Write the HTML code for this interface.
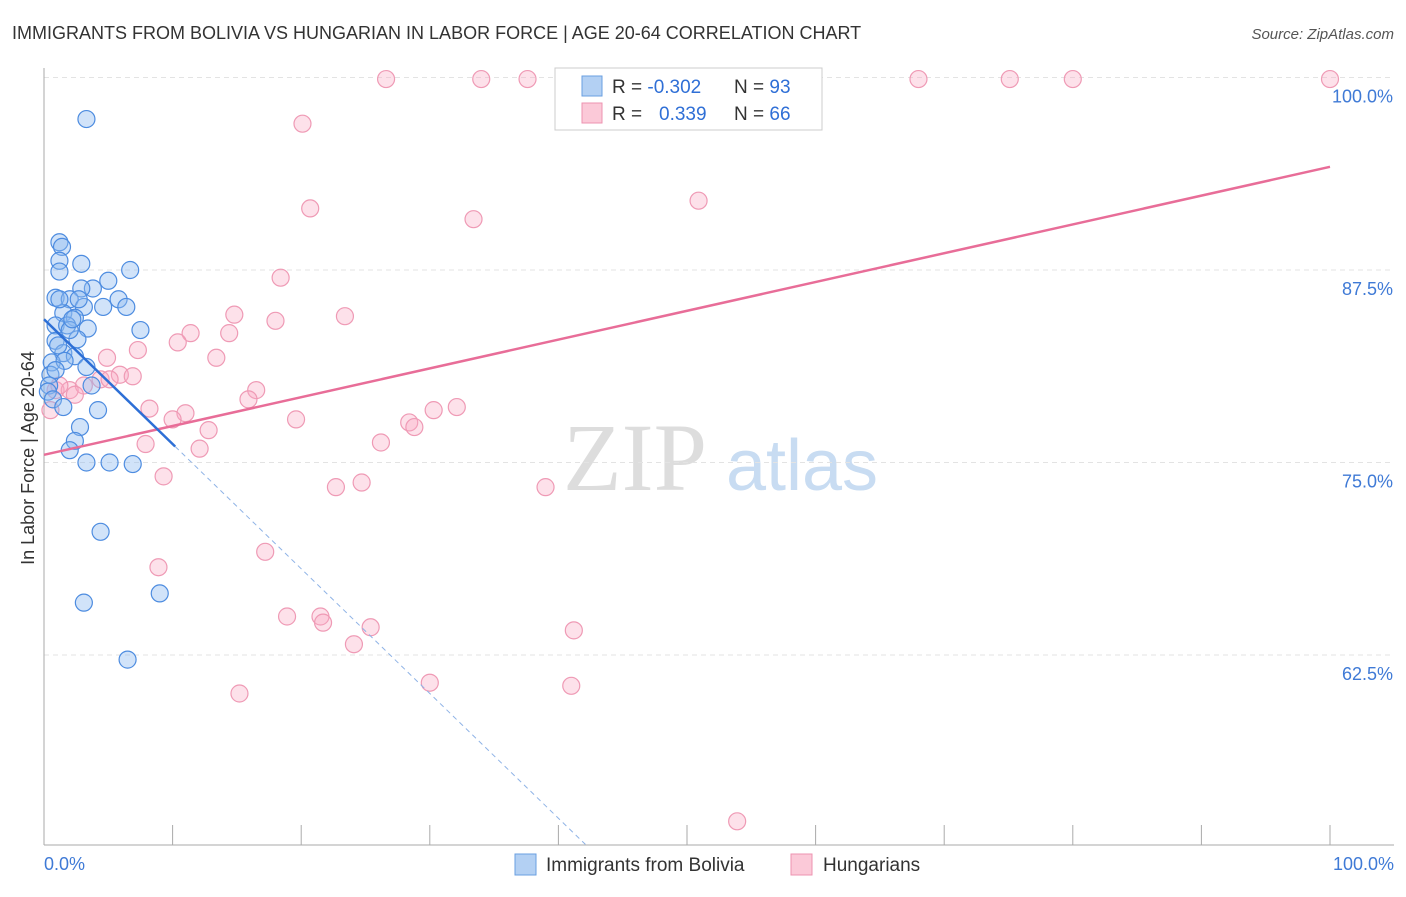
<!DOCTYPE html>
<html><head><meta charset="utf-8"><style>
body{margin:0;background:#fff;font-family:"Liberation Sans",sans-serif;}
</style></head><body>
<svg id="c" width="1406" height="892" xmlns="http://www.w3.org/2000/svg">
<text x="12" y="39" font-size="18" fill="#333">IMMIGRANTS FROM BOLIVIA VS HUNGARIAN IN LABOR FORCE | AGE 20-64 CORRELATION CHART</text>
<text x="1394" y="39" font-size="15" fill="#555" font-style="italic" text-anchor="end">Source: ZipAtlas.com</text>
<text x="34" y="458" font-size="18" fill="#333" text-anchor="middle" transform="rotate(-90 34 458)">In Labor Force | Age 20-64</text>
<g><text x="635" y="490" font-size="96" fill="#ddd" font-family="Liberation Serif" text-anchor="middle">ZIP</text><text x="802" y="490" font-size="72" fill="#c8dcf2" text-anchor="middle">atlas</text></g>
<g id="grid"></g><g id="axes"></g><g id="pts"></g><g id="lines"></g>
<g>
<rect x="555" y="68" width="267" height="62" fill="#fff" stroke="#ccc"/>
<rect x="582" y="76" width="20" height="20" fill="#b3d0f3" stroke="#6a9fe0"/>
<rect x="582" y="103" width="20" height="20" fill="#fbc9d8" stroke="#ee93b0"/>
<text x="612" y="93" font-size="19" fill="#333">R = <tspan fill="#2f6fd6">-0.302</tspan></text>
<text x="734" y="93" font-size="19" fill="#333">N = <tspan fill="#2f6fd6">93</tspan></text>
<text x="612" y="120" font-size="19" fill="#333">R = <tspan fill="#2f6fd6" x="659">0.339</tspan></text>
<text x="734" y="120" font-size="19" fill="#333">N = <tspan fill="#2f6fd6">66</tspan></text>
</g>
<g>
<rect x="515" y="854" width="21" height="21" fill="#b3d0f3" stroke="#6a9fe0"/>
<text x="546" y="871" font-size="19" fill="#333">Immigrants from Bolivia</text>
<rect x="791" y="854" width="21" height="21" fill="#fbc9d8" stroke="#ee93b0"/>
<text x="823" y="871" font-size="19" fill="#333">Hungarians</text>
</g>
</svg>
<script>
const yTicks=[100,87.5,75,62.5];
const yTickLabels=["100.0%","87.5%","75.0%","62.5%"];
const blueX=[3.3,1.2,1.4,1.2,2.9,6.7,1.2,5.0,3.8,2.9,0.9,2.0,5.8,4.6,6.4,3.1,1.5,2.4,0.9,1.8,3.4,7.5,0.9,2.6,1.5,2.4,0.6,3.3,0.5,0.4,0.3,0.7,1.5,4.2,2.8,2.4,2.0,3.3,5.1,6.9,4.4,9.0,3.1,6.5,1.2,2.0,1.1,1.6,0.9,3.7,2.2,2.7];
const blueY=[97.3,89.3,89.0,88.1,87.9,87.5,87.4,86.8,86.3,86.3,85.7,85.6,85.6,85.1,85.1,85.1,84.7,84.4,83.9,83.9,83.7,83.6,82.9,83.0,82.1,81.9,81.5,81.2,80.7,80.0,79.6,79.1,78.6,78.4,77.3,76.4,75.8,75.0,75.0,74.9,70.5,66.5,65.9,62.2,85.6,83.6,82.6,81.6,81.0,80.0,84.3,85.6];
const pinkX=[26.6,34.0,37.6,57.1,68.0,75.1,80.0,100,20.1,20.7,33.4,50.9,18.4,14.8,18.0,23.4,11.4,14.4,10.4,7.3,13.4,4.9,5.9,6.9,4.4,16.5,15.9,8.2,11.0,10.0,19.6,28.4,28.8,30.3,32.1,12.8,7.9,12.1,26.2,9.3,22.7,24.7,39.0,17.2,8.9,18.9,21.5,21.7,25.4,24.1,41.2,30.0,41.0,15.2,53.9,0.5,0.9,2.0,3.1,5.1,1.2,2.4];
const pinkY=[99.9,99.9,99.9,99.9,99.9,99.9,99.9,99.9,97.0,91.5,90.8,92.0,87.0,84.6,84.2,84.5,83.4,83.4,82.8,82.3,81.8,81.8,80.7,80.6,80.4,79.7,79.1,78.5,78.2,77.8,77.8,77.6,77.3,78.4,78.6,77.1,76.2,75.9,76.3,74.1,73.4,73.7,73.4,69.2,68.2,65.0,65.0,64.6,64.3,63.2,64.1,60.7,60.5,60.0,51.7,78.4,79.7,79.7,80.0,80.4,80.0,79.4];
const pinkTrend=[75.5,94.2];
const blueTrend=[84.3,-0.81];
const NS="http://www.w3.org/2000/svg";
const sx=v=>44+v*12.86, sy=v=>77.5+(100-v)*15.4;
function mk(tag,attrs,parent){const e=document.createElementNS(NS,tag);for(const k in attrs)e.setAttribute(k,attrs[k]);document.getElementById(parent).appendChild(e);return e;}
yTicks.forEach((t,i)=>{
 const g=mk('line',{x1:44,x2:1394,y1:sy(t),y2:sy(t),stroke:'#e3e3e3','stroke-dasharray':'5,4'},'grid');
 
 
 const l=mk('text',{x:1393,y:sy(t)+25,'font-size':18,fill:'#3f7ad6','text-anchor':'end'},'axes');l.textContent=yTickLabels[i];
 
 
});
const ax=mk('line',{x1:44,x2:44,y1:68,y2:845,stroke:'#aaa'},'axes');


const bx=mk('line',{x1:44,x2:1394,y1:845,y2:845,stroke:'#aaa'},'axes');


for(let i=0;i<=10;i++){const t=mk('line',{x1:sx(i*10),x2:sx(i*10),y1:825,y2:845,stroke:'#aaa'},'axes');
 
 }
const x0=mk('text',{x:44,y:870,'font-size':18,fill:'#3f7ad6'},'axes');x0.textContent='0.0%';


const x1=mk('text',{x:1394,y:870,'font-size':18,fill:'#3f7ad6','text-anchor':'end'},'axes');x1.textContent='100.0%';


pinkX.forEach((v,i)=>{const c=mk('circle',{cx:sx(v),cy:sy(pinkY[i]),r:8.5,fill:'rgba(248,170,195,0.35)',stroke:'#ef9ab5','stroke-width':1.2},'pts');
 
 });
blueX.forEach((v,i)=>{const c=mk('circle',{cx:sx(v),cy:sy(blueY[i]),r:8.5,fill:'rgba(140,185,240,0.4)',stroke:'#4d8ce0','stroke-width':1.2},'pts');
 
 });
const pl=mk('line',{x1:sx(0),y1:sy(pinkTrend[0]),x2:sx(100),y2:sy(pinkTrend[1]),stroke:'#e86d98','stroke-width':2.5},'lines');


const bl=mk('line',{x1:sx(0),y1:sy(blueTrend[0]),x2:sx(10.2),y2:sy(blueTrend[0]+blueTrend[1]*10.2),stroke:'#2d6fd6','stroke-width':2.5},'lines');


const xe=(50.2-blueTrend[0])/blueTrend[1];
const bd=mk('line',{x1:sx(10.2),y1:sy(blueTrend[0]+blueTrend[1]*10.2),x2:sx(xe),y2:sy(50.2),stroke:'#8fb3e6','stroke-width':1,'stroke-dasharray':'5,4'},'lines');


</script>
</body></html>
